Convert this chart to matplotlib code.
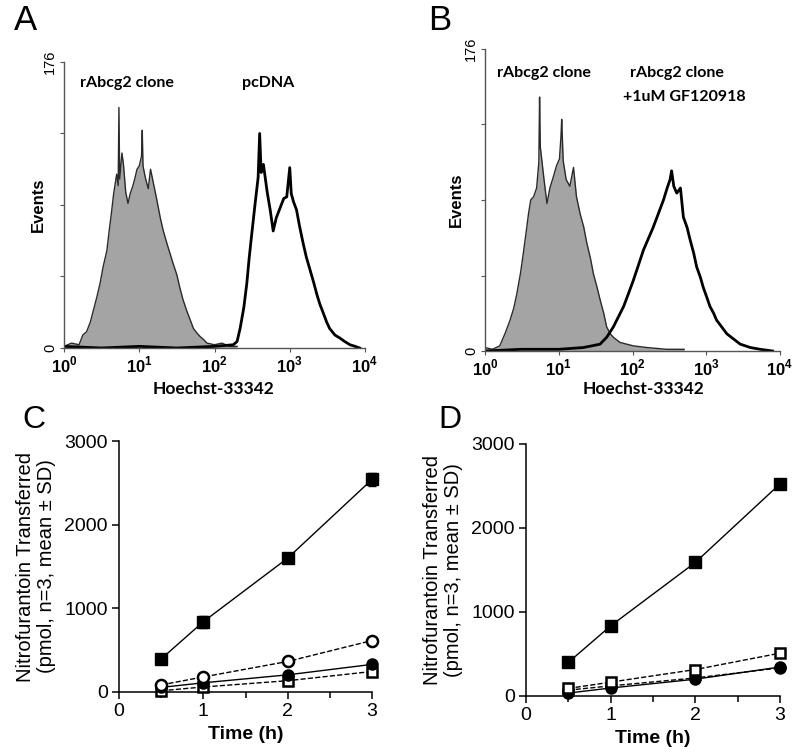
import numpy as np
import matplotlib.pyplot as plt
from matplotlib.ticker import NullLocator, FixedLocator

plt.rcParams["font.family"] = ["Liberation Sans", "DejaVu Sans"]
plt.rcParams["mathtext.fontset"] = "custom"
plt.rcParams["mathtext.rm"] = "Liberation Sans"
plt.rcParams["mathtext.bf"] = "Liberation Sans:bold"

# ---- panel A : flow histograms (x in log10 decades, y in events) ----
a_clone_log = [0.00, 0.10, 0.20, 0.25, 0.30, 0.35, 0.39, 0.44, 0.48, 0.52,
               0.57, 0.60, 0.63, 0.66, 0.70, 0.72, 0.73, 0.74, 0.77, 0.79,
               0.82, 0.85, 0.88, 0.91, 0.94, 0.97, 1.00, 1.03, 1.04, 1.05,
               1.08, 1.12, 1.15, 1.19, 1.23, 1.28, 1.32, 1.37, 1.41, 1.45,
               1.50, 1.54, 1.58, 1.63, 1.68, 1.72, 1.77, 1.81, 1.86, 1.90,
               2.00, 2.10, 2.20, 2.30]
a_clone_events = [1, 3, 2, 8, 10, 16, 23, 32, 40, 50,
                  60, 72, 83, 95, 107, 100, 148, 104, 120, 113,
                  96, 89, 95, 99, 104, 110, 112, 118, 134, 112,
                  105, 98, 110, 101, 92, 80, 72, 64, 58, 52,
                  45, 37, 30, 23, 17, 12, 9, 7, 5, 3,
                  2, 3, 1, 1]
a_pcdna_log = [0.00, 0.50, 1.00, 1.50, 2.00, 2.25, 2.30, 2.34, 2.39, 2.43,
               2.46, 2.49, 2.54, 2.58, 2.60, 2.62, 2.65, 2.70, 2.74, 2.78,
               2.82, 2.87, 2.92, 2.96, 3.00, 3.02, 3.05, 3.09, 3.13, 3.18,
               3.22, 3.27, 3.32, 3.36, 3.40, 3.45, 3.49, 3.53, 3.60, 3.67,
               3.73, 3.80, 3.87, 3.93]
a_pcdna_events = [1, 0, 1, 0, 1, 2, 4, 12, 25, 40,
                  55, 68, 89, 105, 132, 108, 113, 96, 85, 72,
                  80, 86, 92, 93, 111, 95, 90, 85, 75, 64,
                  56, 48, 40, 33, 27, 21, 16, 12, 8, 6,
                  4, 2, 1, 0]

# ---- panel B ----
b_clone_log = [0.00, 0.10, 0.20, 0.27, 0.34, 0.39, 0.43, 0.48, 0.52, 0.56,
               0.59, 0.62, 0.66, 0.70, 0.73, 0.74, 0.75, 0.80, 0.84, 0.88,
               0.93, 0.97, 1.01, 1.03, 1.04, 1.06, 1.10, 1.15, 1.20, 1.24,
               1.29, 1.34, 1.38, 1.43, 1.47, 1.52, 1.56, 1.61, 1.65, 1.70,
               1.74, 1.83, 1.92, 2.01, 2.20, 2.46, 2.70]
b_clone_events = [2, 1, 3, 10, 18, 25, 33, 45, 57, 70,
                  80, 88, 90, 95, 110, 148, 119, 100, 86, 95,
                  102, 108, 112, 125, 135, 111, 100, 96, 107, 90,
                  80, 72, 63, 54, 45, 37, 30, 22, 14, 10,
                  8, 5, 4, 3, 2, 1, 1]
b_gf_log = [0.00, 0.50, 1.00, 1.33, 1.45, 1.56, 1.65, 1.74, 1.81, 1.88,
            1.95, 2.01, 2.08, 2.15, 2.21, 2.28, 2.35, 2.42, 2.47, 2.51,
            2.53, 2.56, 2.60, 2.65, 2.69, 2.74, 2.78, 2.83, 2.87, 2.92,
            2.96, 3.01, 3.05, 3.10, 3.14, 3.21, 3.28, 3.37, 3.46, 3.60,
            3.73, 3.90]
b_gf_events = [0, 1, 1, 2, 3, 4, 8, 14, 20, 26,
               34, 41, 50, 59, 65, 72, 80, 88, 95, 100,
               105, 96, 92, 95, 78, 72, 65, 57, 49, 43,
               37, 31, 26, 22, 18, 14, 10, 7, 4, 2,
               1, 0]

# ---- panels C and D : nitrofurantoin transfer ----
time_h = [0.5, 1, 2, 3]
c_fsq = [395, 840, 1600, 2540]
c_fsq_sd = [25, 70, 30, 80]
c_ocirc = [85, 180, 365, 615]
c_fcirc = [55, 110, 205, 330]
c_osq = [15, 60, 135, 245]

d_fsq = [400, 835, 1590, 2525]
d_osq = [90, 165, 315, 510]
d_fcirc = [35, 95, 200, 345]
d_fcirc2 = [70, 120, 215, 335]

hist_ticks = [1, 10, 100, 1000, 10000]
hist_ticklabels = [r"$\mathbf{10}^{\mathbf{%d}}$" % i for i in range(5)]

W, H = 800, 756
fig = plt.figure(figsize=(W / 100, H / 100), dpi=100)


def px_axes(l, t, r, b):
    return fig.add_axes([l / W, 1 - b / H, (r - l) / W, (b - t) / H])


def ftext(x, y, s, **kw):
    return fig.text(x / W, 1 - y / H, s, **kw)


def draw_hist(ax, gx, gy, ox, oy):
    gx = 10 ** np.array(gx)
    ox = 10 ** np.array(ox)
    ax.fill_between(gx, gy, color="#a4a4a4", lw=0)
    ax.plot(gx, gy, color="#2a2a2a", lw=1.0)
    ax.plot(ox, oy, color="black", lw=2.0)
    ax.set_xscale("log")
    ax.set_xlim(1, 1e4)
    ax.set_ylim(0, 176)
    for s in ["top", "right"]:
        ax.spines[s].set_visible(False)
    for s in ["left", "bottom"]:
        ax.spines[s].set_color("#555555")
        ax.spines[s].set_linewidth(1.0)
    ax.set_xticks(hist_ticks)
    ax.set_xticklabels(hist_ticklabels, fontsize=12)
    ax.xaxis.set_minor_locator(NullLocator())
    ax.set_yticks([0, 176])
    ax.set_yticklabels(["0", "176"], rotation=90, va="center", fontsize=10.5)
    ax.yaxis.set_minor_locator(FixedLocator([44, 88, 132]))
    ax.tick_params(axis="both", which="both", length=3, width=0.8, color="#555555", pad=2)


axA = px_axes(64, 62, 365, 348)
draw_hist(axA, a_clone_log, a_clone_events, a_pcdna_log, a_pcdna_events)
axB = px_axes(485, 49, 780, 351)
draw_hist(axB, b_clone_log, b_clone_events, b_gf_log, b_gf_events)


def draw_transfer(ax):
    ax.set_xlim(0, 3)
    ax.set_ylim(0, 3000)
    for s in ["top", "right"]:
        ax.spines[s].set_visible(False)
    for s in ["left", "bottom"]:
        ax.spines[s].set_linewidth(1.1)
    ax.set_xticks([0, 1, 2, 3])
    ax.set_xticks([0.5, 1.5, 2.5], minor=True)
    ax.set_yticks([0, 1000, 2000, 3000])
    ax.tick_params(axis="both", which="major", length=5, width=1.1, labelsize=14, pad=3)
    ax.tick_params(axis="x", which="minor", length=4, width=1.1)
    ax.set_xlabel("Time (h)", fontsize=14, fontweight="bold", labelpad=4)
    ax.set_ylabel("Nitrofurantoin Transferred\n(pmol, n=3, mean \u00b1 SD)",
                  fontsize=14.5, linespacing=1.15, labelpad=6)


axC = px_axes(119, 441, 372, 692)
draw_transfer(axC)
axC.plot(time_h, c_osq, ls="--", color="black", lw=1, marker="s", ms=7.5,
         mfc="white", mec="black", mew=1.8, clip_on=False, zorder=3)
axC.plot(time_h, c_fcirc, ls="-", color="black", lw=1, marker="o", ms=8,
         mfc="black", mec="black", clip_on=False, zorder=4)
axC.plot(time_h, c_ocirc, ls="--", color="black", lw=1, marker="o", ms=8,
         mfc="white", mec="black", mew=1.8, clip_on=False, zorder=5)
axC.errorbar(time_h, c_fsq, yerr=c_fsq_sd, fmt="s-", color="black", lw=1, ms=8,
             mfc="black", capsize=3, elinewidth=1.2, clip_on=False, zorder=6)

axD = px_axes(526, 444, 780, 696)
draw_transfer(axD)
axD.plot(time_h, d_fcirc2, ls="--", color="black", lw=1, marker="o", ms=8,
         mfc="black", mec="black", clip_on=False, zorder=3)
axD.plot(time_h, d_fcirc, ls="-", color="black", lw=1, marker="o", ms=8,
         mfc="black", mec="black", clip_on=False, zorder=4)
axD.plot(time_h, d_osq, ls="--", color="black", lw=1, marker="s", ms=7.5,
         mfc="white", mec="black", mew=1.8, clip_on=False, zorder=5)
axD.plot(time_h, d_fsq, ls="-", color="black", lw=1, marker="s", ms=8,
         mfc="black", mec="black", clip_on=False, zorder=6)

# panel letters
ftext(14, 4, "A", fontsize=25, va="top")
ftext(428, 4, "B", fontsize=25, va="top")
ftext(22, 405, "C", fontsize=23, va="top")
ftext(438, 405, "D", fontsize=23, va="top")

# histogram labels
lab = dict(family=["Lato", "DejaVu Sans"], fontweight="bold", fontsize=11.5)
ftext(80, 83, "rAbcg2 clone", va="center", **lab)
ftext(242, 83, "pcDNA", va="center", **lab)
ftext(497, 73, "rAbcg2 clone", va="center", **lab)
ftext(630, 73, "rAbcg2 clone", va="center", **lab)
ftext(623, 97, "+1uM GF120918", va="center", **lab)

ftext(213, 389, "Hoechst-33342", ha="center", va="center", **dict(lab, fontsize=12.5))
ftext(643, 389, "Hoechst-33342", ha="center", va="center", **dict(lab, fontsize=12.5))
ftext(38, 205, "Events", rotation=90, ha="center", va="center", fontsize=12, fontweight="bold")
ftext(456, 200, "Events", rotation=90, ha="center", va="center", fontsize=12, fontweight="bold")

fig.savefig("out.png", dpi=100)
